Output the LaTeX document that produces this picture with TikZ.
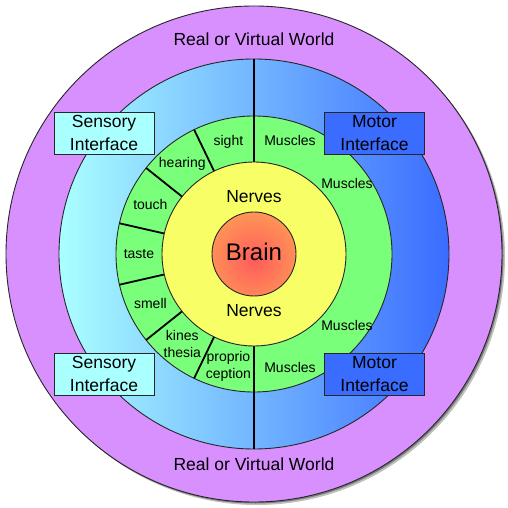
\documentclass[tikz,border=0pt]{standalone}
\usepackage{fontspec}
\setmainfont{Liberation Sans}
\definecolor{worldpurple}{HTML}{D990FF}
\definecolor{sensecyan}{HTML}{AAFFFF}
\definecolor{midblue}{HTML}{6EB0FF}
\definecolor{motorblue}{HTML}{3A6CFF}
\definecolor{organgreen}{HTML}{7AFF7A}
\definecolor{nerveyellow}{HTML}{F8FF66}
\definecolor{brainred}{HTML}{FF5C5C}
\definecolor{brainorange}{HTML}{FF9A55}
\begin{document}
\begin{tikzpicture}[
    x=1pt, y=1pt,
    ring/.style={draw=black!85, line width=0.9pt},
    divider/.style={draw=black, line width=1.8pt},
    label/.style={font=\fontsize{17.5}{23}\selectfont, align=center, inner sep=0pt},
    organ/.style={font=\fontsize{14}{17}\selectfont, align=center, inner sep=0pt},
    interface/.style={draw=black!85, line width=0.8pt, minimum width=100pt, minimum height=42pt,
        align=center, inner sep=0pt, font=\fontsize{17.5}{23}\selectfont},
    sensebox/.style={interface, fill=sensecyan},
    motorbox/.style={interface, fill=motorblue},
]
    \useasboundingbox (-254,-254) rectangle (254,254);
    % soft shadow of the world
    \fill[black, opacity=0.25] (3,-3) circle (248);
    \fill[black, opacity=0.35] (1.5,-1.5) circle (248);
    % rings from outside in
    \fill[worldpurple] (0,0) circle (248);
    \draw[ring] (0,0) circle (248);
    \shade[left color=sensecyan, middle color=midblue, right color=motorblue] (0,0) circle (195);
    \draw[ring] (0,0) circle (195);
    \fill[organgreen] (0,0) circle (138);
    \draw[ring] (0,0) circle (138);
    % sense organ dividers
    \foreach \k in {1,...,6}
        \draw[divider] ({90+\k*180/7}:92) -- ({90+\k*180/7}:138);
    \draw[divider, line width=1.6pt] (0,195) -- (0,92);
    \draw[divider, line width=1.6pt] (0,-92) -- (0,-195);
    \fill[nerveyellow] (0,0) circle (92);
    \draw[ring] (0,0) circle (92);
    \begin{scope}
        \clip (0,0) circle (42);
        \shade[inner color=brainred, outer color=brainorange] (0,-6) circle (52);
    \end{scope}
    \draw[ring] (0,0) circle (42);

    % texts
    \node[label] (worldtop) at (0,215) {Real or Virtual World};
    \node[label] (worldbottom) at (0,-210) {Real or Virtual World};
    \node[label] (nervestop) at (0,57) {Nerves};
    \node[label] (nervesbottom) at (0,-57) {Nerves};
    \node[label, font=\fontsize{24}{28}\selectfont] (brain) at (0,2) {Brain};

    \node[organ] (sight) at ({90+1*180/14}:115) {sight};
    \node[organ] (hearing) at ({90+3*180/14}:115) {hearing};
    \node[organ] (touch) at ({90+5*180/14}:115) {touch};
    \node[organ] (taste) at ({90+7*180/14}:115) {taste};
    \node[organ] (smell) at ({90+9*180/14}:115) {smell};
    \node[organ] (kinesthesia) at ({90+11*180/14}:115) {kines\\thesia};
    \node[organ] (proprioception) at ({90+13*180/14}:115) {proprio\\ception};

    \node[organ] (musclesa) at (36,114) {Muscles};
    \node[organ] (musclesb) at (93,71) {Muscles};
    \node[organ] (musclesc) at (93,-71) {Muscles};
    \node[organ] (musclesd) at (36,-113) {Muscles};

    \node[sensebox] (sensetop) at (-150,121) {Sensory\\Interface};
    \node[sensebox] (sensebottom) at (-150,-120) {Sensory\\Interface};
    \node[motorbox] (motortop) at (120.5,121) {Motor\\Interface};
    \node[motorbox] (motorbottom) at (120.5,-120) {Motor\\Interface};
\end{tikzpicture}
\end{document}
